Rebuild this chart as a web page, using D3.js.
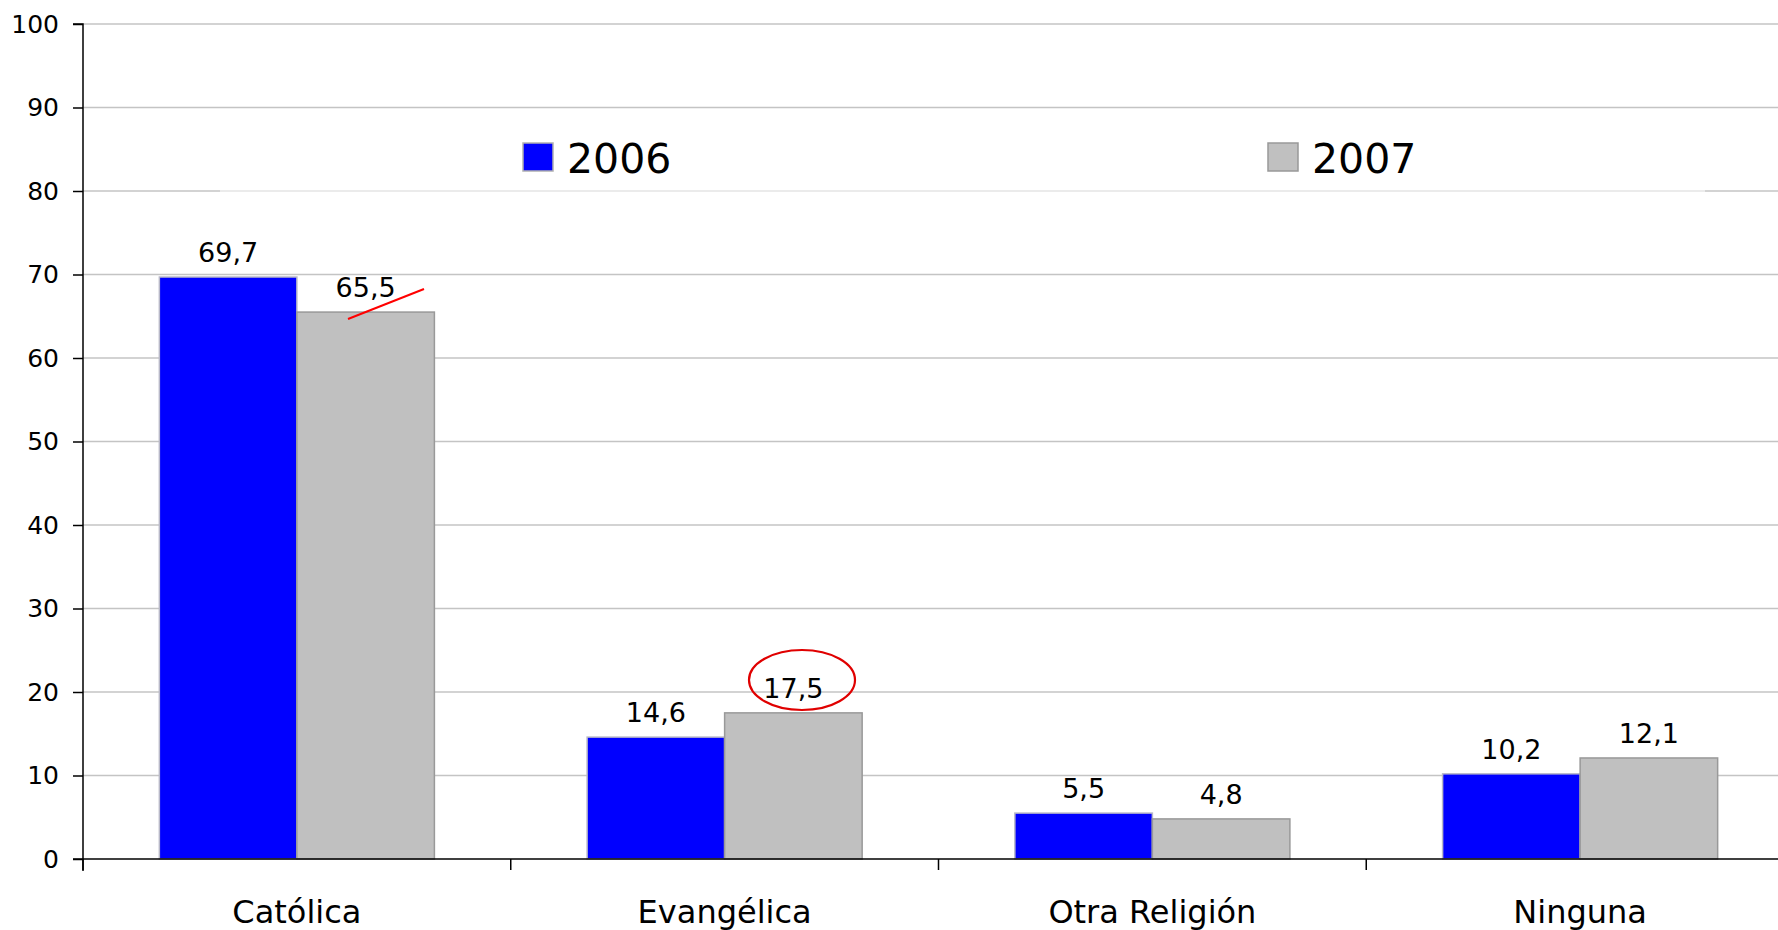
<!DOCTYPE html>
<html><head><meta charset="utf-8">
<script src="https://cdn.jsdelivr.net/npm/d3@7"></script>
<style>html,body{margin:0;padding:0;background:#fff;overflow:hidden}</style>
</head><body>
<svg id="c" width="1778" height="930"></svg>
<script>
const categories = ["Católica", "Evangélica", "Otra Religión", "Ninguna"];
const series = ["2006", "2007"];
const values2006 = [69.7, 14.6, 5.5, 10.2];
const values2007 = [65.5, 17.5, 4.8, 12.1];
const yTicks = [0, 10, 20, 30, 40, 50, 60, 70, 80, 90, 100];
const colors = ["#0000ff", "#c0c0c0"];
const strokes = ["#b8b8c8", "#999999"];

(function(){
const svg = d3.select("#c");
const pL = 83, pR = 1794, pT = 24, pB = 859;
const y = d3.scaleLinear().domain([0, 100]).range([pB, pT]);
const x0 = d3.scaleBand().domain(categories).range([pL, pR]).paddingInner(0.357).paddingOuter(0.1785);
const x1 = d3.scaleBand().domain(series).range([0, x0.bandwidth()]);
const fmt = v => String(v).replace(".", ",");

// gridlines
svg.append("g").selectAll("line").data(yTicks.filter(d => d > 0)).join("line")
  .attr("x1", pL).attr("x2", pR).attr("y1", d => y(d)).attr("y2", d => y(d))
  .attr("stroke", "#c4c4c4").attr("stroke-width", 1.5);

// legend backdrop (lightens gridline)
svg.append("rect").attr("x", 220).attr("y", 118).attr("width", 1485).attr("height", 74)
  .attr("fill", "#fff").attr("opacity", 0.55);

// bars
const data = categories.map((c, i) => ({c, vals: [values2006[i], values2007[i]]}));
const g = svg.append("g").selectAll("g").data(data).join("g")
  .attr("transform", d => `translate(${x0(d.c)},0)`);
g.selectAll("rect").data(d => d.vals.map((v, k) => ({v, k}))).join("rect")
  .attr("x", d => x1(series[d.k])).attr("width", x1.bandwidth())
  .attr("y", d => y(d.v)).attr("height", d => y(0) - y(d.v))
  .attr("fill", d => colors[d.k]).attr("stroke", d => strokes[d.k]).attr("stroke-width", 1.5);
g.selectAll("text").data(d => d.vals.map((v, k) => ({v, k}))).join("text")
  .attr("x", d => x1(series[d.k]) + x1.bandwidth() / 2).attr("y", d => y(d.v) - 15)
  .attr("text-anchor", "middle").attr("font-family", "DejaVu Sans").attr("font-size", 27)
  .attr("fill", "#000").text(d => fmt(d.v));

// y axis
const yAxis = d3.axisLeft(y).tickValues(yTicks).tickSize(10).tickPadding(14).tickFormat(d3.format("d"));
const ya = svg.append("g").attr("transform", `translate(${pL},0)`).call(yAxis);
ya.select(".domain").attr("stroke", "#000").attr("stroke-width", 1.5).attr("d", `M-10,${pT}H0V${pB + 12}`);
ya.selectAll(".tick line").attr("stroke", "#000").attr("stroke-width", 1.5);
ya.selectAll("text").attr("font-family", "DejaVu Sans").attr("font-size", 25).attr("fill", "#000");

// x axis
const xa = svg.append("g").attr("transform", `translate(0,${pB})`);
xa.append("line").attr("x1", pL - 10).attr("x2", pR).attr("y1", 0).attr("y2", 0)
  .attr("stroke", "#000").attr("stroke-width", 1.5);
const step = x0.step();
const boundaries = d3.range(categories.length + 1).map(i => pL + i * step);
xa.selectAll("line.t").data(boundaries).join("line").attr("class", "t")
  .attr("x1", d => d).attr("x2", d => d).attr("y1", 0).attr("y2", 11)
  .attr("stroke", "#000").attr("stroke-width", 1.5);
xa.selectAll("text").data(categories).join("text")
  .attr("x", d => x0(d) + x0.bandwidth() / 2).attr("y", 64)
  .attr("text-anchor", "middle").attr("font-family", "DejaVu Sans").attr("font-size", 32)
  .attr("fill", "#000").text(d => d);

// legend
const legX = [523, 1268];
const lg = svg.append("g").selectAll("g").data(series).join("g");
lg.append("rect").attr("x", (d, i) => legX[i]).attr("y", 143).attr("width", 30).attr("height", 28)
  .attr("fill", (d, i) => colors[i]).attr("stroke", (d, i) => i ? "#999" : "#b0b0b0").attr("stroke-width", 1.5);
lg.append("text").attr("x", (d, i) => legX[i] + 44).attr("y", 173)
  .attr("font-family", "DejaVu Sans").attr("font-size", 41).attr("fill", "#000").text(d => d);

// red annotations
svg.append("line").attr("x1", 348).attr("y1", 319).attr("x2", 424).attr("y2", 289)
  .attr("stroke", "#ff0000").attr("stroke-width", 2);
svg.append("ellipse").attr("cx", 802).attr("cy", 680).attr("rx", 53).attr("ry", 30)
  .attr("fill", "none").attr("stroke", "#e00000").attr("stroke-width", 2.2);
})();
</script>
</body></html>
